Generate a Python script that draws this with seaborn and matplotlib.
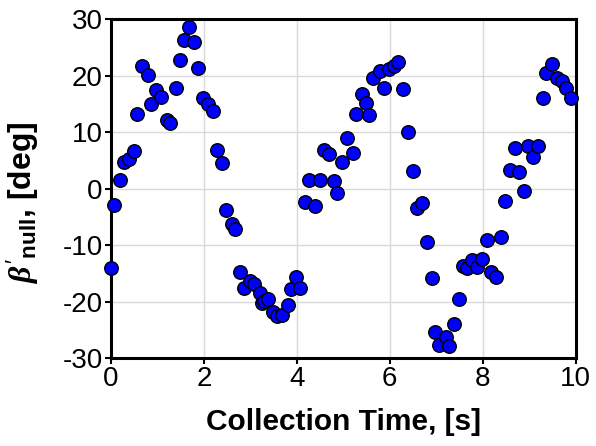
import matplotlib
matplotlib.use("Agg")
import matplotlib.pyplot as plt
import seaborn as sns
import pandas as pd

time_s = [0.0, 0.06, 0.2, 0.29, 0.38, 0.5, 0.57, 0.67, 0.8, 0.87, 0.97, 1.08, 1.2, 1.28,
          1.4, 1.49, 1.58, 1.69, 1.78, 1.87, 1.99, 2.08, 2.19, 2.29, 2.39, 2.48, 2.6, 2.67,
          2.77, 2.87, 3.0, 3.08, 3.2, 3.25, 3.3, 3.39, 3.48, 3.57, 3.68, 3.8, 3.87, 3.98,
          4.07, 4.18, 4.26, 4.39, 4.49, 4.59, 4.69, 4.81, 4.87, 4.98, 5.09, 5.2, 5.28, 5.4,
          5.48, 5.56, 5.64, 5.79, 5.88, 5.99, 6.08, 6.18, 6.28, 6.4, 6.49, 6.58, 6.69, 6.8,
          6.9, 6.97, 7.06, 7.2, 7.28, 7.39, 7.49, 7.57, 7.67, 7.76, 7.87, 7.99, 8.09, 8.18,
          8.28, 8.39, 8.47, 8.58, 8.69, 8.79, 8.89, 8.98, 9.08, 9.18, 9.29, 9.36, 9.48,
          9.59, 9.7, 9.79, 9.9]
beta_null = [-14.1, -2.95, 1.5, 4.8, 5.2, 6.6, 13.2, 21.8, 20.2, 15.0, 17.4, 16.2, 12.1, 11.7,
             17.8, 22.8, 26.4, 28.6, 25.9, 21.4, 16.1, 15.0, 13.7, 6.8, 4.5, -3.7, -6.3, -7.2,
             -14.8, -17.5, -16.3, -16.9, -18.4, -20.3, -19.9, -19.6, -21.9, -22.5, -22.3, -20.6,
             -17.8, -15.7, -17.5, -2.3, 1.5, -3.1, 1.5, 6.8, 6.2, 1.4, -0.7, 4.8, 9.0, 6.4,
             13.2, 16.8, 15.2, 13.1, 19.6, 20.8, 17.8, 21.1, 21.8, 22.5, 17.7, 10.0, 3.2,
             -3.5, -2.6, -9.4, -15.9, -25.4, -27.6, -26.3, -27.8, -24.0, -19.6, -13.7, -14.1,
             -12.6, -13.8, -12.4, -9.0, -14.7, -15.7, -8.5, -2.1, 3.3, 7.2, 2.9, -0.5, 7.5,
             5.6, 7.5, 16.1, 20.4, 22.1, 19.6, 19.0, 17.8, 16.0]
x_ticks = [0, 2, 4, 6, 8, 10]
y_ticks = [-30, -20, -10, 0, 10, 20, 30]

n = min(len(time_s), len(beta_null))
df = pd.DataFrame({"t": time_s[:n], "b": beta_null[:n]})

sns.set_style("whitegrid")
plt.rcParams['font.family'] = ['Liberation Sans', 'DejaVu Sans']
plt.rcParams['text.color'] = 'black'
plt.rcParams['axes.labelcolor'] = 'black'
plt.rcParams['xtick.color'] = 'black'
plt.rcParams['ytick.color'] = 'black'
plt.rcParams['mathtext.fontset'] = 'custom'
plt.rcParams['mathtext.rm'] = 'Liberation Sans'
plt.rcParams['mathtext.bf'] = 'Liberation Sans:bold'
plt.rcParams['mathtext.it'] = 'Liberation Serif:italic:bold'

fig, ax = plt.subplots(figsize=(5.96, 4.46), dpi=100)
fig.subplots_adjust(left=0.186, right=0.966, top=0.957, bottom=0.197)

sns.scatterplot(data=df, x="t", y="b", ax=ax, color="#0000FF", edgecolor="black",
                linewidth=1.0, s=95, zorder=3, clip_on=False)

ax.set_xlim(0, 10)
ax.set_ylim(-30, 30)
ax.set_xticks(x_ticks)
ax.set_yticks(y_ticks)
ax.set_xticklabels([str(v) for v in x_ticks])
ax.set_yticklabels([str(v) for v in y_ticks])
ax.grid(True, color="#d9d9d9", linewidth=1.0)
for sp in ax.spines.values():
    sp.set_color("black")
    sp.set_linewidth(2.2)
ax.tick_params(axis="both", which="major", direction="out", length=4.5, width=1.5,
               color="black", labelcolor="black", labelsize=20, pad=1.5,
               bottom=True, left=True)

ax.set_xlabel("Collection Time, [s]", fontsize=21.5, fontweight="bold", labelpad=11)
ax.set_ylabel(r"$\beta'_{\mathbf{null}}$, [deg]", fontsize=23, fontweight="bold")
ax.yaxis.set_label_coords(-0.15, 0.46)

fig.savefig("out.png", dpi=100)
